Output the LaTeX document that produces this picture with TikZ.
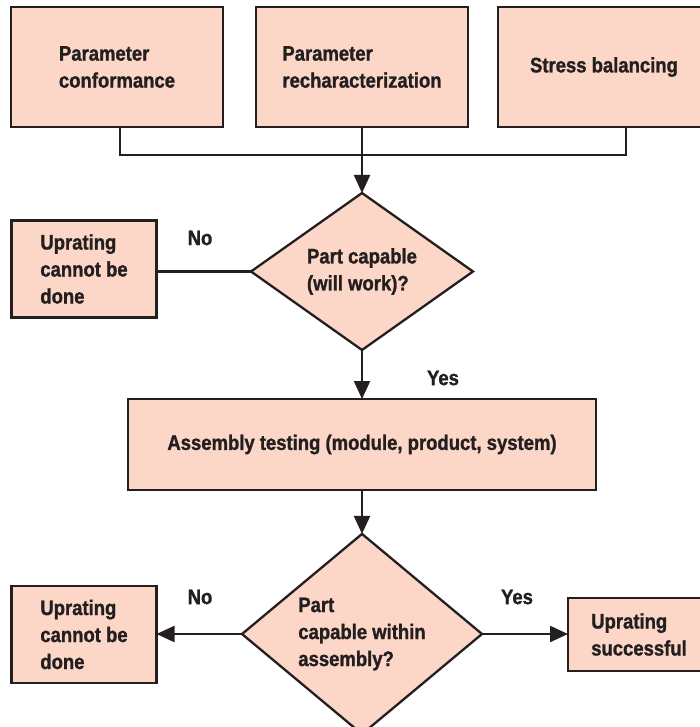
\documentclass[tikz,border=0pt]{standalone}
\usepackage{fontspec}
\newfontfamily\lbfont{Liberation Sans Bold}[FakeStretch=0.88, FakeBold=1.2]
\usetikzlibrary{shapes.geometric,arrows.meta,calc}
\definecolor{boxfill}{RGB}{252,214,198}
\definecolor{ink}{RGB}{35,31,32}
\tikzset{
  every node/.style={font=\lbfont\fontsize{21}{27}\selectfont, text=ink},
  procbox/.style={draw=ink, fill=boxfill, line width=2.3pt, rectangle, align=left, inner sep=0pt, outer sep=0pt},
  decide/.style={draw=ink, fill=boxfill, line width=2.3pt, diamond, align=left, inner sep=0pt, outer sep=0pt},
  conn/.style={draw=ink, line width=2.2pt},
  arr/.style={conn, -{Triangle[width=16pt,length=18pt]}},
  lbl/.style={inner sep=0pt}
}
\begin{document}
\begin{tikzpicture}[x=1pt, y=-1pt]
\useasboundingbox (0,0) rectangle (700,727);
% top boxes
\node[procbox, minimum width=212pt, minimum height=120pt] (b1) at (117,67) {Parameter\\conformance};
\node[procbox, minimum width=212pt, minimum height=120pt] (b2) at (362,67) {Parameter\\recharacterization};
\node[procbox, minimum width=212pt, minimum height=120pt] (b3) at (604,67) {Stress balancing};
% first decision
\node[decide, minimum width=222pt, minimum height=157pt] (d1) at (362,271.5) {Part capable\\(will work)?};
\node[procbox, minimum width=145pt, minimum height=97pt] (u1) at (84,269) {Uprating\\cannot be\\done};
% assembly
\node[procbox, minimum width=468pt, minimum height=91pt] (asm) at (362,444.5) {Assembly testing (module, product, system)};
% second decision
\node[decide, minimum width=240pt, minimum height=188pt] (d2) at (362,634) {Part\\capable within\\assembly?};
\node[procbox, minimum width=145pt, minimum height=97pt] (u2) at (84,634.5) {Uprating\\cannot be\\done};
\node[procbox, minimum width=142pt, minimum height=73pt] (s) at (639,634.5) {Uprating\\successful};
% junction
\coordinate (j) at (362,155);
\draw[conn] ([xshift=3pt]b1.south) |- (j);
\draw[conn] ([xshift=22pt]b3.south) |- (j);
\draw[arr] (b2.south) -- (d1.north);
% connectors
\draw[conn] (d1.west) -- (u1.east |- d1.west);
\draw[arr] (d1.south) -- (asm.north);
\draw[arr] (asm.south) -- (d2.north);
\draw[arr] (d2.west) -- (u2.east |- d2.west);
\draw[arr] (d2.east) -- (s.west |- d2.east);
% labels
\node[lbl] (no1) at (200,238) {No};
\node[lbl] (yes1) at (443,378) {Yes};
\node[lbl] (no2) at (200,597) {No};
\node[lbl] (yes2) at (517,597) {Yes};
\end{tikzpicture}
\end{document}
